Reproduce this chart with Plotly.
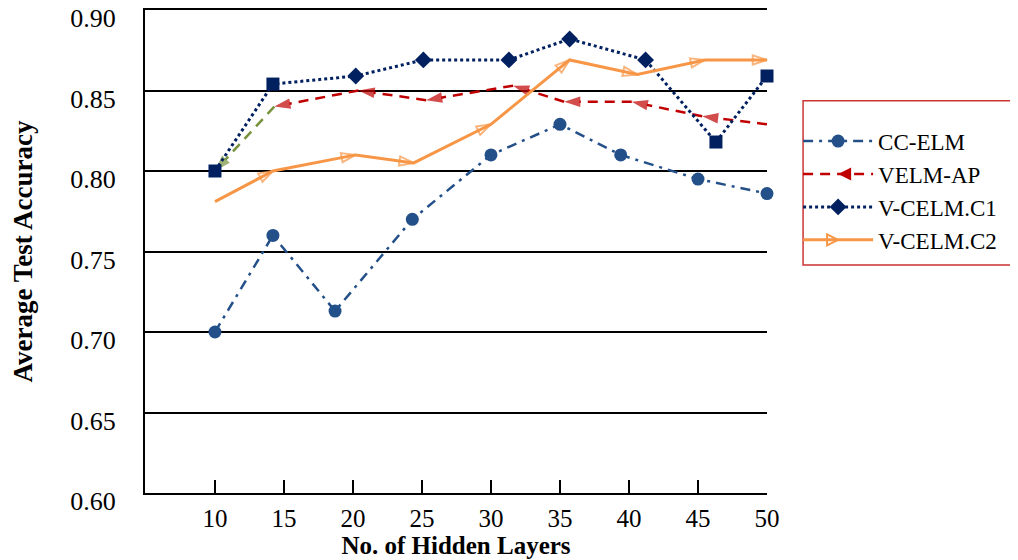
import plotly.graph_objects as go

# ---- data ----
x_cc = [10, 14.2, 18.7, 24.3, 30, 35, 39.4, 45, 50]
y_cc = [0.700, 0.760, 0.713, 0.770, 0.810, 0.829, 0.810, 0.795, 0.786]

x_ap = [10, 14.3, 20.4, 25.3, 31.6, 35.3, 40.2, 45.3, 50]
y_ap = [0.800, 0.840, 0.850, 0.844, 0.853, 0.843, 0.843, 0.834, 0.829]

x_c1 = [10, 14.2, 20.2, 25.1, 31.3, 35.7, 41.2, 46.3, 50]
y_c1 = [0.800, 0.854, 0.859, 0.869, 0.869, 0.882, 0.869, 0.818, 0.859]
c1_symbols = ["square", "square", "diamond", "diamond", "diamond",
              "diamond", "diamond", "square", "square"]

x_c2 = [10, 14.2, 20.2, 24.4, 30, 35.7, 40.6, 45.5, 50]
y_c2 = [0.781, 0.800, 0.810, 0.805, 0.829, 0.869, 0.860, 0.869, 0.869]

series_names = ["CC-ELM", "VELM-AP", "V-CELM.C1", "V-CELM.C2"]
x_ticks = [10, 15, 20, 25, 30, 35, 40, 45, 50]
y_ticks = [0.60, 0.65, 0.70, 0.75, 0.80, 0.85, 0.90]

# ---- styles ----
C_CC = "#245089"
C_AP = "#C00000"
C_GREEN = "#77933C"
C_C1 = "#002060"
C_C2 = "#F79646"
FONT = "Liberation Serif"

fig = go.Figure()

# CC-ELM
fig.add_trace(go.Scatter(
    x=x_cc, y=y_cc, mode="lines+markers", showlegend=False, cliponaxis=False,
    line=dict(color=C_CC, width=2.5, dash="10px,6px,3px,6px"),
    marker=dict(symbol="circle", size=13, color=C_CC)))

# VELM-AP (drawn right-to-left, arrowheads pointing left)
ap_x_rev = x_ap[::-1]
ap_y_rev = y_ap[::-1]
fig.add_trace(go.Scatter(
    x=ap_x_rev[:-1], y=ap_y_rev[:-1], mode="lines+markers", showlegend=False,
    cliponaxis=False,
    line=dict(color=C_AP, width=2.5, dash="10px,7px"),
    marker=dict(symbol="arrow", angleref="previous",
                size=[0] + [17] * (len(ap_x_rev) - 2), color=C_AP,
                line=dict(width=0))))
fig.add_trace(go.Scatter(
    x=ap_x_rev[-2:], y=ap_y_rev[-2:], mode="lines+markers", showlegend=False,
    cliponaxis=False,
    line=dict(color=C_GREEN, width=2.5, dash="10px,7px"),
    marker=dict(symbol="arrow", angleref="previous", size=[0, 17],
                color=C_GREEN, line=dict(width=0))))

# V-CELM.C1
fig.add_trace(go.Scatter(
    x=x_c1, y=y_c1, mode="lines+markers", showlegend=False, cliponaxis=False,
    line=dict(color=C_C1, width=3, dash="dot"),
    marker=dict(symbol=c1_symbols, size=13, color=C_C1)))

# V-CELM.C2
fig.add_trace(go.Scatter(
    x=x_c2, y=y_c2, mode="lines+markers", showlegend=False, cliponaxis=False,
    line=dict(color=C_C2, width=3),
    marker=dict(symbol="arrow-open", angleref="previous",
                size=[0] + [15] * (len(x_c2) - 1), color=C_C2,
                line=dict(width=2, color=C_C2))))

# legend entries
leg_styles = [
    dict(line=dict(color=C_CC, width=2.5, dash="10px,6px,3px,6px"),
         marker=dict(symbol="circle", size=13, color=C_CC)),
    dict(line=dict(color=C_AP, width=2.5, dash="10px,7px"),
         marker=dict(symbol="arrow-left", size=13, color=C_AP)),
    dict(line=dict(color=C_C1, width=3, dash="dot"),
         marker=dict(symbol="diamond", size=13, color=C_C1)),
    dict(line=dict(color=C_C2, width=3),
         marker=dict(symbol="arrow-right-open", size=11, color=C_C2,
                     line=dict(width=2, color=C_C2))),
]
for name, st in zip(series_names, leg_styles):
    fig.add_trace(go.Scatter(x=[None], y=[None], mode="lines+markers",
                             name=name, **st))

# legend frame
fig.add_shape(type="rect", xref="paper", yref="paper",
              x0=1.058, x1=1.45, y0=0.472, y1=0.812,
              line=dict(color="#CC3333", width=1.5), fillcolor="rgba(0,0,0,0)")

# the page body adds an 8px offset, so the figure is 8px smaller and shifted
fig.update_layout(
    width=1010, height=552,
    margin=dict(l=137, r=251, t=2, b=67, autoexpand=False),
    paper_bgcolor="white", plot_bgcolor="white",
    font=dict(family=FONT, color="black", size=25),
    legend=dict(x=1.05, xanchor="left", y=0.773, yanchor="top",
                bgcolor="rgba(0,0,0,0)", borderwidth=0, itemwidth=70,
                font=dict(family=FONT, size=23, color="black"),
                tracegroupgap=0),
    xaxis=dict(range=[4.93, 50], tickvals=x_ticks, ticktext=[str(v) for v in x_ticks],
               showgrid=False, zeroline=False, showline=True, mirror=True,
               linecolor="black", linewidth=2, ticks="inside", ticklen=13,
               tickwidth=2, tickcolor="black", ticklabelstandoff=2,
               tickfont=dict(family=FONT, size=25),
               title=dict(text="<b>No. of Hidden Layers</b>", standoff=3,
                          font=dict(family=FONT, size=25))),
    yaxis=dict(range=[0.60, 0.90], tickvals=y_ticks,
               ticktext=[f"{v:.2f}" for v in y_ticks],
               showgrid=True, gridcolor="black", gridwidth=2, zeroline=False,
               showline=True, linecolor="black", linewidth=2, ticks="",
               ticklabeloverflow="allow", ticklabelshift=8,
               ticklabelstandoff=22, tickfont=dict(family=FONT, size=26),
               title=dict(text="<b>Average Test Accuracy</b>", standoff=35,
                          font=dict(family=FONT, size=27))),
)

fig.write_html("out.html")
